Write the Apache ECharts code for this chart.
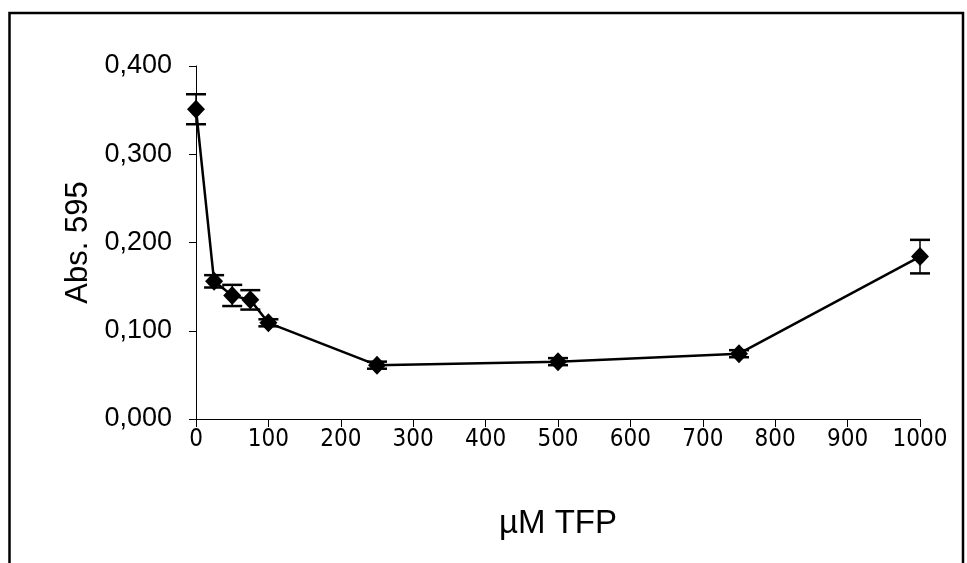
<!DOCTYPE html>
<html>
<head>
<meta charset="utf-8">
<script src="https://cdn.jsdelivr.net/npm/echarts@6/dist/echarts.min.js"></script>
<style>
html,body{margin:0;padding:0;background:#fff;}
#chart{width:967px;height:563px;}
</style>
</head>
<body>
<div id="chart"></div>
<script>
// Data
var concentrations = [0, 25, 50, 75, 100, 250, 500, 750, 1000];
var absorbance = [0.351, 0.156, 0.140, 0.135, 0.109, 0.061, 0.065, 0.074, 0.184];
var errors = [0.017, 0.007, 0.012, 0.011, 0.004, 0.004, 0.004, 0.004, 0.019];
var xTitle = 'µM TFP';
var yTitle = 'Abs. 595';

var lineData = concentrations.map(function (x, i) { return [x, absorbance[i]]; });
var errData = concentrations.map(function (x, i) { return [x, absorbance[i] - errors[i], absorbance[i] + errors[i]]; });

var chart = echarts.init(document.getElementById('chart'), null, {renderer: 'canvas'});
chart.setOption({
  backgroundColor: '#fff',
  animation: false,
  graphic: [{
    type: 'rect',
    shape: {x: 9.5, y: 13, width: 953.5, height: 600},
    style: {fill: 'none', stroke: '#000', lineWidth: 2.5},
    silent: true, z: 100
  }],
  grid: {left: 196, right: 47, top: 66, bottom: 144},
  xAxis: {
    type: 'value', min: 0, max: 1000, interval: 100,
    name: xTitle, nameLocation: 'middle', nameGap: 88,
    nameTextStyle: {fontFamily: 'Liberation Sans', fontSize: 33, color: '#000'},
    axisLine: {show: true, onZero: false, lineStyle: {color: '#000', width: 1}},
    axisTick: {show: true, inside: false, length: 8, lineStyle: {color: '#000', width: 1}},
    axisLabel: {margin: 9, fontFamily: '"DejaVu Sans Condensed", "Liberation Sans"', fontSize: 24, color: '#000',
      formatter: function (v) { return String(v); }},
    splitLine: {show: false}
  },
  yAxis: {
    type: 'value', min: 0, max: 0.4, interval: 0.1,
    name: yTitle, nameLocation: 'middle', nameGap: 38,
    nameTextStyle: {fontFamily: 'Liberation Sans', fontSize: 31, color: '#000'},
    axisLine: {show: true, onZero: false, lineStyle: {color: '#000', width: 1}},
    axisTick: {show: true, inside: false, length: 7, lineStyle: {color: '#000', width: 1}},
    axisLabel: {margin: 24, fontFamily: 'Liberation Sans', fontSize: 27, color: '#000',
      formatter: function (v) { return v.toFixed(3).replace('.', ','); }},
    splitLine: {show: false}
  },
  series: [{
    type: 'custom',
    data: errData,
    z: 3,
    renderItem: function (params, api) {
      var x = api.value(0);
      var lo = api.coord([x, api.value(1)]);
      var hi = api.coord([x, api.value(2)]);
      var hw = 10;
      var st = {stroke: '#000', lineWidth: 2.5};
      return {
        type: 'group',
        children: [
          {type: 'line', shape: {x1: lo[0], y1: lo[1], x2: hi[0], y2: hi[1]}, style: {stroke: '#000', lineWidth: 1.5}},
          {type: 'line', shape: {x1: lo[0] - hw, y1: lo[1], x2: lo[0] + hw, y2: lo[1]}, style: st},
          {type: 'line', shape: {x1: hi[0] - hw, y1: hi[1], x2: hi[0] + hw, y2: hi[1]}, style: st}
        ]
      };
    }
  }, {
    type: 'line',
    data: lineData,
    z: 4,
    symbol: 'diamond',
    symbolSize: [18, 19],
    lineStyle: {color: '#000', width: 2.5},
    itemStyle: {color: '#000', borderWidth: 0}
  }]
});
</script>
</body>
</html>
